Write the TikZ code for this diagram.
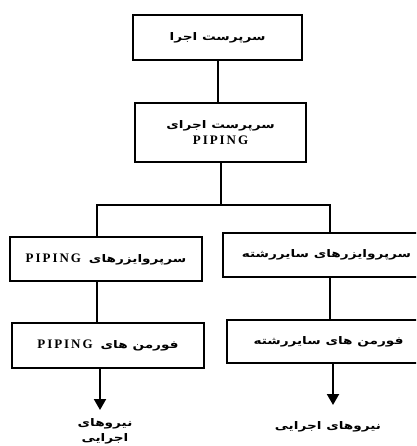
\documentclass[tikz,border=0pt]{standalone}
\usepackage{fontspec}
\setmainfont{Liberation Serif}
\newfontfamily\arabicfont[Script=Arabic, FakeStretch=1.3]{DejaVu Sans}
\TeXXeTstate=1
\usetikzlibrary{arrows.meta}
\newcommand{\fa}[1]{{\arabicfont\bfseries\beginR #1\endR}}
\newcommand{\pip}{{\bfseries\fontsize{13}{15}\selectfont\addfontfeature{LetterSpace=15}PIPING}}
\begin{document}
\begin{tikzpicture}[x=1pt,y=-1pt,
  box/.style={draw, line width=1.4pt, inner sep=0pt, align=center, font=\fontsize{10.5}{17}\selectfont},
  conn/.style={line width=2pt},
  arr/.style={line width=2pt, -{Triangle[length=11pt,width=12pt]}},
  lbl/.style={align=center, font=\fontsize{10.5}{15}\selectfont}]
\useasboundingbox (0,0) rectangle (416,446);
\clip (0,0) rectangle (416,446);
\node[box, minimum width=169, minimum height=45] (top) at (217.5,37.5) {\fa{سرپرست اجرا}};
\node[box, minimum width=171, minimum height=59] (sup) at (220.5,132.5) {\fa{سرپرست اجرای}\\[-1pt]\pip};
\node[box, minimum width=192, minimum height=44] (lsup) at (106,259) {\pip\hspace{8pt}\fa{سرپروایزرهای}};
\node[box, minimum width=207, minimum height=44] (rsup) at (326.5,255) {\fa{سرپروایزرهای سایررشته}};
\node[box, minimum width=192, minimum height=45] (lfor) at (108,345.5) {\pip\hspace{8pt}\fa{فورمن های}};
\node[box, minimum width=203, minimum height=43] (rfor) at (328.5,341.5) {\fa{فورمن های سایررشته}};
\node[lbl] (lout) at (105,431.5) {\fa{نیروهای}\\\fa{اجرایی}};
\node[lbl] (rout) at (328,427) {\fa{نیروهای اجرایی}};
\coordinate (bl) at (97,205);
\coordinate (br) at (330,205);
\coordinate (tipL) at (100,410);
\coordinate (tipR) at (333,405);
\draw[conn] (top.south) -- (top.south |- sup.north);
\draw[conn] (sup.south) -- (sup.south |- bl);
\draw[conn] (bl |- lsup.north) -- (bl) -- (br) -- (br |- rsup.north);
\draw[conn] (bl |- lsup.south) -- (bl |- lfor.north);
\draw[conn] (br |- rsup.south) -- (br |- rfor.north);
\draw[arr] (tipL |- lfor.south) -- (tipL);
\draw[arr] (tipR |- rfor.south) -- (tipR);
\end{tikzpicture}
\end{document}
